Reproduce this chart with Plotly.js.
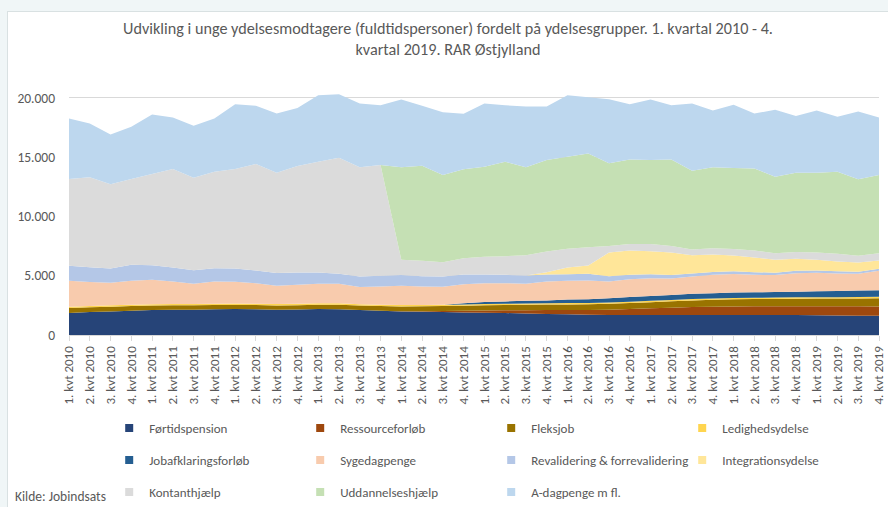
<!DOCTYPE html>
<html>
<head>
<meta charset="utf-8">
<script src="https://cdn.plot.ly/plotly-3.0.1.min.js"></script>
<style>
  html, body { margin: 0; padding: 0; background: #F0F6F7; width: 888px; height: 507px; overflow: hidden; }
  #chart { position: absolute; left: 8px; top: 12px; width: 880px; height: 495px; background: #fff; }
  #frame { position: absolute; left: 7px; top: 11px; width: 881px; height: 496px;
           border-left: 1px solid #D9E1E2; border-top: 1px solid #D9E1E2; box-sizing: border-box; pointer-events: none; }
</style>
</head>
<body>
<div id="chart"></div>
<div id="frame"></div>
<script>
const quarters = [
  "1. kvt 2010","2. kvt 2010","3. kvt 2010","4. kvt 2010",
  "1. kvt 2011","2. kvt 2011","3. kvt 2011","4. kvt 2011",
  "1. kvt 2012","2. kvt 2012","3. kvt 2012","4. kvt 2012",
  "1. kvt 2013","2. kvt 2013","3. kvt 2013","4. kvt 2013",
  "1. kvt 2014","2. kvt 2014","3. kvt 2014","4. kvt 2014",
  "1. kvt 2015","2. kvt 2015","3. kvt 2015","4. kvt 2015",
  "1. kvt 2016","2. kvt 2016","3. kvt 2016","4. kvt 2016",
  "1. kvt 2017","2. kvt 2017","3. kvt 2017","4. kvt 2017",
  "1. kvt 2018","2. kvt 2018","3. kvt 2018","4. kvt 2018",
  "1. kvt 2019","2. kvt 2019","3. kvt 2019","4. kvt 2019"
];

const fortidspension = [1850,1930,1990,2050,2100,2130,2140,2180,2190,2170,2140,2160,2190,2180,2100,2050,1990,1960,1930,1900,1880,1850,1820,1780,1740,1700,1690,1690,1690,1680,1680,1680,1680,1680,1680,1680,1670,1640,1630,1630];
const ressourceforlob = [0,0,0,0,0,0,0,0,0,0,0,0,0,0,0,0,20,50,90,140,190,230,270,320,360,400,440,500,560,620,680,710,730,740,740,750,760,780,790,780];
const fleksjob = [420,410,400,390,380,370,360,350,350,350,350,350,360,370,380,390,400,410,420,430,440,450,460,470,480,490,500,510,520,540,560,580,600,610,620,630,640,650,660,680];
const ledighedsydelse = [110,110,110,110,110,110,115,115,120,120,120,120,120,120,115,110,110,110,110,110,110,110,110,110,110,110,110,110,110,110,110,110,110,110,115,115,120,120,125,130];
const jobafklaring = [0,0,0,0,0,0,0,0,0,0,0,0,0,0,0,0,0,0,10,100,160,190,220,240,300,320,360,390,410,430,440,450,460,460,470,480,500,520,540,560];
const sygedagpenge = [2190,2010,1900,2020,2065,1905,1705,1870,1830,1735,1540,1605,1650,1650,1445,1545,1630,1565,1510,1610,1595,1545,1440,1595,1580,1580,1415,1510,1505,1390,1465,1545,1560,1475,1425,1560,1555,1480,1415,1635];
const revalidering = [1265,1260,1210,1350,1235,1180,1150,1125,1120,1065,1070,1035,950,840,895,895,900,870,865,815,730,700,700,590,560,560,450,380,320,280,250,240,230,220,210,200,200,190,180,170];
const integrationsydelse = [0,0,0,0,0,0,0,0,0,0,0,0,0,0,0,0,0,0,0,0,0,0,0,195,565,700,1990,2035,1955,1905,1545,1475,1340,1240,1080,1010,895,820,775,700];
const kontanthjaelp = [7320,7580,7100,7235,7685,8305,7800,8130,8390,8980,8470,8980,9345,9790,9205,9345,1290,1290,1205,1375,1485,1575,1710,1740,1570,1545,560,560,615,560,480,530,535,590,560,585,615,645,560,615];
const uddannelseshjaelp = [0,0,0,0,0,0,0,0,0,0,0,0,0,0,0,0,7800,8025,7350,7490,7605,7965,7410,7715,7770,7910,6960,7125,7070,7295,6645,6820,6845,6925,6450,6680,6735,6925,6455,6590];
const adagpenge = [5105,4540,4205,4405,5025,4345,4370,4490,5470,4910,4990,4900,5610,5360,5380,5045,5720,5050,5300,4680,5325,4765,5130,4515,5190,4745,5415,4660,5105,4570,5665,4795,5330,4630,5640,4770,5245,4630,5720,4855];

const seriesNames = ["Førtidspension","Ressourceforløb","Fleksjob","Ledighedsydelse",
  "Jobafklaringsforløb","Sygedagpenge","Revalidering & forrevalidering","Integrationsydelse",
  "Kontanthjælp","Uddannelseshjælp","A-dagpenge m fl."];
const seriesValues = [fortidspension, ressourceforlob, fleksjob, ledighedsydelse,
  jobafklaring, sygedagpenge, revalidering, integrationsydelse,
  kontanthjaelp, uddannelseshjaelp, adagpenge];
const seriesColors = ["#264478","#9E480E","#997300","#FFD54F",
  "#255E91","#F8CBAD","#B4C7E7","#FFE699",
  "#DBDBDB","#C5E0B4","#BDD7EE"];

const FONT = 'Carlito, Calibri, "Liberation Sans", sans-serif';
const GREY = '#595959';

const traces = [];
seriesNames.forEach((name, i) => {
  traces.push({
    type: 'scatter', x: quarters, y: seriesValues[i], name: name,
    stackgroup: 'one', mode: 'none', fillcolor: seriesColors[i],
    line: {width: 0}, showlegend: false, hoverinfo: 'x+y+name'
  });
});
// legend entries (square swatches), three rows of four
const legendIds = ['legend','legend','legend','legend','legend2','legend2','legend2','legend2','legend3','legend3','legend3'];
seriesNames.forEach((name, i) => {
  traces.push({
    type: 'scatter', x: [null], y: [null], name: name, mode: 'markers',
    marker: {symbol: 'square', size: 8, color: seriesColors[i]},
    legend: legendIds[i], showlegend: true, hoverinfo: 'skip'
  });
});

const legendBase = {
  orientation: 'h', xref: 'container', yref: 'container',
  x: 0.1150, xanchor: 'left', yanchor: 'middle', traceorder: 'normal',
  font: {family: FONT, size: 13, color: GREY},
  bgcolor: 'rgba(0,0,0,0)', entrywidth: 146, itemclick: false, itemdoubleclick: false
};

const layout = {
  width: 880, height: 495,
  paper_bgcolor: '#ffffff', plot_bgcolor: '#ffffff',
  separators: ',.',
  margin: {l: 61, r: 9, t: 74, b: 172},
  title: {
    text: 'Udvikling i unge ydelsesmodtagere (fuldtidspersoner) fordelt på ydelsesgrupper. 1. kvartal 2010 - 4.<br>kvartal 2019. RAR Østjylland',
    x: 0.5, xanchor: 'center', y: 0.956, yanchor: 'top',
    font: {family: FONT, size: 16.2, color: GREY}
  },
  xaxis: {
    type: 'category', range: [0, 39], tickangle: -90,
    tickfont: {family: FONT, size: 13, color: GREY},
    ticks: 'outside', ticklen: 5, tickcolor: '#D9D9D9',
    showline: true, linecolor: '#D9D9D9', linewidth: 1,
    showgrid: false, zeroline: false, fixedrange: true
  },
  yaxis: {
    range: [0, 21000], tickvals: [0, 5000, 10000, 15000, 20000], tickformat: ',d',
    tickfont: {family: FONT, size: 13.5, color: GREY},
    showgrid: true, gridcolor: '#D9D9D9', gridwidth: 1,
    zeroline: false, showline: false, ticks: '', ticklabelstandoff: 13, fixedrange: true
  },
  legend: Object.assign({}, legendBase, {y: 0.1596}),
  legend2: Object.assign({}, legendBase, {y: 0.0949}),
  legend3: Object.assign({}, legendBase, {y: 0.0303}),
  annotations: [{
    text: 'Kilde: Jobindsats', xref: 'paper', yref: 'paper',
    x: -0.069, xanchor: 'left', y: -0.648, yanchor: 'middle', showarrow: false,
    font: {family: FONT, size: 13.5, color: GREY}
  }],
  showlegend: true
};

Plotly.newPlot('chart', traces, layout, {displayModeBar: false, staticPlot: true});
</script>
</body>
</html>
